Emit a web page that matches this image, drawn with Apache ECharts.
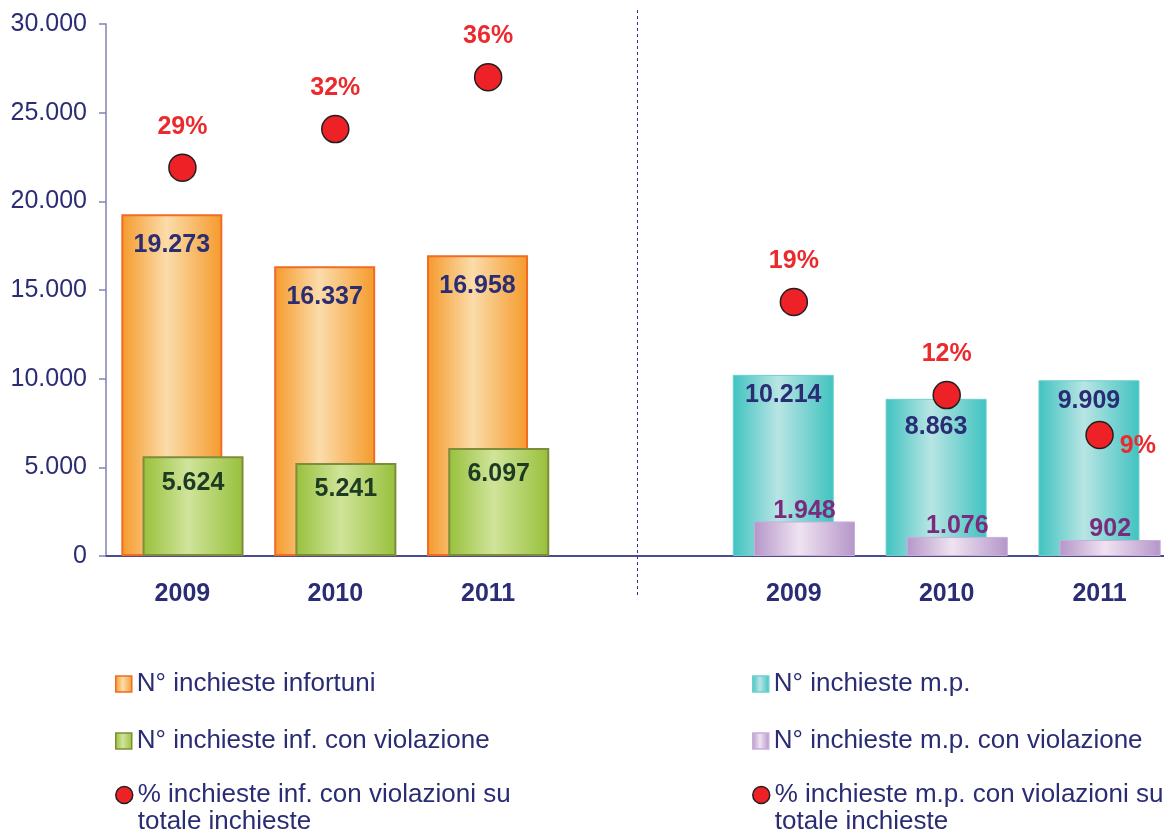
<!DOCTYPE html>
<html>
<head>
<meta charset="utf-8">
<script src="https://cdn.jsdelivr.net/npm/echarts@6/dist/echarts.min.js"></script>
<style>
  html, body { margin: 0; padding: 0; background: #fff; overflow: hidden; }
  /* the original picture is cropped on the right, so the canvas runs a little past the window */
  #chart { width: 1176px; height: 836px; }
</style>
</head>
<body>
<div id="chart"></div>
<script>
// categories: left group (infortuni), empty separator slot, right group (malattie professionali)
const years = ['2009', '2010', '2011', '', '2009', '2010', '2011']

const inchiesteInf = [19273, 16337, 16958, '-', '-', '-', '-']
const inchiesteInfViol = [5624, 5241, 6097, '-', '-', '-', '-']
const inchiesteMp = ['-', '-', '-', '-', 10214, 8863, 9909]
const inchiesteMpViol = ['-', '-', '-', '-', 1948, 1076, 902]
const pctInf = [29.2, 32.1, 36.0, '-', '-', '-', '-']
const pctMp = ['-', '-', '-', '-', 19.1, 12.1, 9.1]

const NAVY = '#2b2d74'
const RED_TXT = '#ec2a2e'
const FONT = '"Liberation Sans", Arial, sans-serif'

const names = {
  inf: 'N° inchieste infortuni',
  infViol: 'N° inchieste inf. con violazione',
  pctInf: '% inchieste inf. con violazioni su\ntotale inchieste',
  mp: 'N° inchieste m.p.',
  mpViol: 'N° inchieste m.p. con violazione',
  pctMp: '% inchieste m.p. con violazioni su\ntotale inchieste'
}

const thousands = v => String(v).replace(/\B(?=(\d{3})+(?!\d))/g, '.')

const cyl = (edge, light) => new echarts.graphic.LinearGradient(0, 0, 1, 0, [
  { offset: 0, color: edge },
  { offset: 0.45, color: light },
  { offset: 1, color: edge }
])

const barLabel = (color, position, distance) => ({
  show: true,
  position: position,
  distance: distance,
  color: color,
  fontFamily: FONT,
  fontSize: 25,
  fontWeight: 'bold',
  formatter: p => thousands(p.value)
})

const dotLabel = {
  show: true,
  position: 'top',
  distance: 14,
  color: RED_TXT,
  fontFamily: FONT,
  fontSize: 25,
  fontWeight: 'bold',
  formatter: p => Math.round(p.value) + '%'
}

const dotStyle = { color: '#ee2226', borderColor: '#231f20', borderWidth: 1.5, opacity: 1 }

const chart = echarts.init(document.getElementById('chart'), null, { renderer: 'canvas' })

const legendItem = (name, icon, top, left, extra) => Object.assign({
  orient: 'vertical',
  left: left,
  top: top,
  padding: 0,
  icon: icon,
  itemWidth: icon === 'circle' ? 17 : 16,
  itemHeight: icon === 'circle' ? 17 : 16,
  itemGap: 0,
  selectedMode: false,
  itemStyle: { borderWidth: 1.5, opacity: 1 },
  textStyle: { color: NAVY, fontFamily: FONT, fontSize: 26, lineHeight: 27 },
  data: [name]
}, extra || {})

// the two-line entries keep their first line level with the dot
const dotLegendExtra = { formatter: n => '\n' + n }

chart.setOption({
  animation: false,
  backgroundColor: '#fff',
  grid: { left: 106, top: 24, right: 0, bottom: 280, containLabel: false },
  xAxis: {
    type: 'category',
    data: years,
    axisLine: { lineStyle: { color: '#4b4b8e', width: 2 } },
    axisTick: {
      length: 8,
      lineStyle: { color: '#7c7cb0', width: 1.5 },
      interval: i => i !== 3 && i !== 4
    },
    axisLabel: {
      margin: 26,
      color: NAVY,
      fontFamily: FONT,
      fontSize: 25,
      fontWeight: 'bold',
      interval: 0
    }
  },
  yAxis: [{
    type: 'value',
    min: 0,
    max: 30000,
    interval: 5000,
    axisLine: { show: true, lineStyle: { color: '#8282b6', width: 1.5 } },
    axisTick: { show: true, length: 7, lineStyle: { color: '#8282b6', width: 1.5 } },
    splitLine: { show: false },
    axisLabel: {
      margin: 19,
      color: NAVY,
      fontFamily: FONT,
      fontSize: 25,
      formatter: v => thousands(v)
    }
  }, {
    type: 'value',
    min: 0,
    max: 40,
    show: false,
    splitLine: { show: false }
  }],
  legend: [
    legendItem(names.inf, 'rect', 670.5, 115),
    legendItem(names.infViol, 'rect', 727.5, 115),
    legendItem(names.pctInf, 'circle', 754.5, 115, dotLegendExtra),
    legendItem(names.mp, 'rect', 670.5, 752),
    legendItem(names.mpViol, 'rect', 727.5, 752),
    legendItem(names.pctMp, 'circle', 754.5, 752, dotLegendExtra)
  ],
  series: [{
    name: names.inf,
    type: 'bar',
    stack: 'tot',
    barWidth: 101,
    barGap: '-79%',
    data: inchiesteInf,
    itemStyle: { color: cyl('#f59a2b', '#fbdcaa'), borderColor: '#f26b22', borderWidth: 2 },
    label: barLabel(NAVY, 'insideTop', 18)
  }, {
    name: names.infViol,
    type: 'bar',
    stack: 'viol',
    barWidth: 101,
    barGap: '-79%',
    data: inchiesteInfViol,
    itemStyle: { color: cyl('#97c03b', '#d0e49a'), borderColor: '#7f8d3b', borderWidth: 2 },
    label: barLabel('#1d3a22', 'insideTop', 14)
  }, {
    name: names.mp,
    type: 'bar',
    stack: 'tot',
    barWidth: 101,
    barGap: '-79%',
    // 2010 label is pushed down below the dot, as in the original
    data: inchiesteMp.map((v, i) => i === 5 ? { value: v, label: { distance: 16 } } : v),
    itemStyle: { color: cyl('#40c3c0', '#b8e5e4'), borderColor: '#6dcfcd', borderWidth: 1 },
    label: barLabel(NAVY, 'insideTop', 8)
  }, {
    name: names.mpViol,
    type: 'bar',
    stack: 'viol',
    barWidth: 101,
    barGap: '-79%',
    data: inchiesteMpViol,
    itemStyle: { color: cyl('#b596c9', '#efe3f1'), borderColor: '#c7aedb', borderWidth: 1 },
    label: barLabel('#7a2b7e', 'top', -2)
  }, {
    name: names.pctInf,
    type: 'scatter',
    yAxisIndex: 1,
    symbol: 'circle',
    symbolSize: 27,
    z: 5,
    data: pctInf,
    itemStyle: dotStyle,
    label: dotLabel
  }, {
    name: names.pctMp,
    type: 'scatter',
    yAxisIndex: 1,
    symbol: 'circle',
    symbolSize: 27,
    z: 5,
    // last point's label sits to the right of the dot, as in the original
    data: pctMp.map((v, i) => i === pctMp.length - 1
      ? { value: v, label: { position: 'right', distance: 6, offset: [0, 11] } }
      : v),
    itemStyle: dotStyle,
    label: dotLabel
  }]
})

// dotted separator through the empty category slot
const sepX = Math.round(chart.convertToPixel({ xAxisIndex: 0 }, 3)) - 3.5
chart.setOption({
  graphic: [{
    type: 'line',
    silent: true,
    shape: { x1: sepX, y1: 10, x2: sepX, y2: 595 },
    style: { stroke: '#2e3192', lineWidth: 1, lineDash: [3, 3] }
  }]
})
</script>
</body>
</html>
